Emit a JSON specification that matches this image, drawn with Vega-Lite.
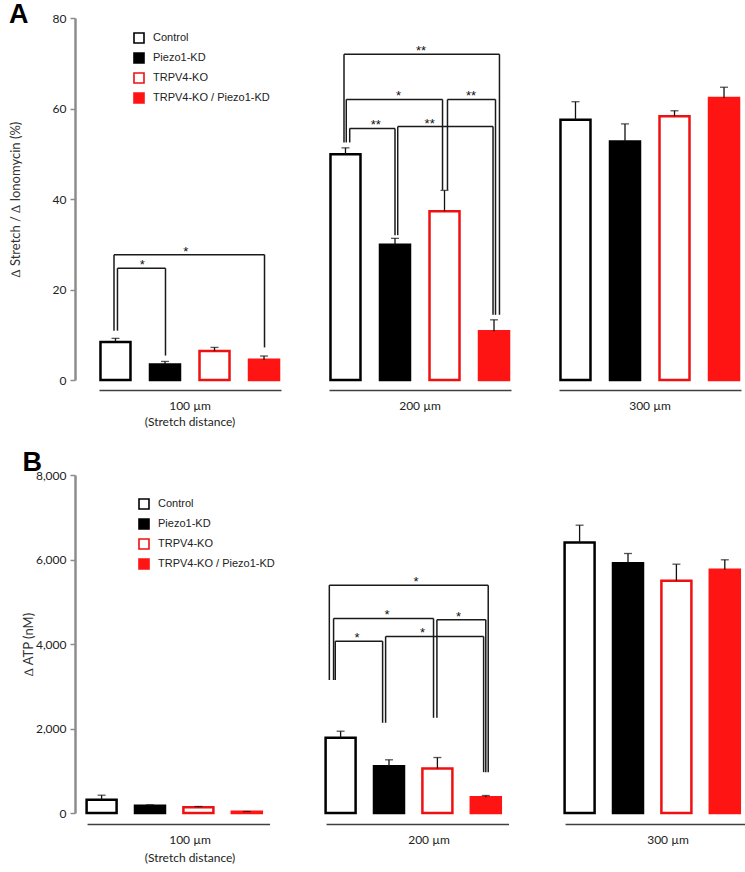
{
  "$schema": "https://vega.github.io/schema/vega-lite/v6.json",
  "background": "white",
  "padding": {"left": 9, "top": 1, "right": 0, "bottom": 0},
  "config": {
    "view": {"stroke": null},
    "font": "Lato",
    "axis": {"grid": false},
    "scale": {"continuousPadding": 0},
    "title": {"font": "Liberation Sans", "fontSize": 27, "fontWeight": "bold", "color": "#000", "anchor": "start", "frame": "bounds"},
    "legend": {"orient": "none", "title": null, "symbolType": "square", "symbolSize": 100, "symbolStrokeWidth": 1.6, "labelFont": "Liberation Sans", "labelFontSize": 11, "labelColor": "#222", "rowPadding": 2, "labelOffset": 8, "padding": 0}
  },
  "spacing": 21,
  "resolve": {"scale": {"fill": "independent", "stroke": "independent", "x": "independent", "y": "independent"}},
  "vconcat": [
    {
      "title": {"text": "A", "offset": -17},
      "data": {"values": [
        {"kind": "bar", "distance": "100 µm", "cond": "Control", "idx": 1, "mean": 8.4, "hi": 9.2},
        {"kind": "bar", "distance": "100 µm", "cond": "Piezo1-KD", "idx": 2, "mean": 3.4, "hi": 4.1},
        {"kind": "bar", "distance": "100 µm", "cond": "TRPV4-KO", "idx": 3, "mean": 6.4, "hi": 7.2},
        {"kind": "bar", "distance": "100 µm", "cond": "TRPV4-KO / Piezo1-KD", "idx": 4, "mean": 4.5, "hi": 5.3},
        {"kind": "bar", "distance": "200 µm", "cond": "Control", "idx": 1, "mean": 49.9, "hi": 51.3},
        {"kind": "bar", "distance": "200 µm", "cond": "Piezo1-KD", "idx": 2, "mean": 29.9, "hi": 31.3},
        {"kind": "bar", "distance": "200 µm", "cond": "TRPV4-KO", "idx": 3, "mean": 37.3, "hi": 41.9},
        {"kind": "bar", "distance": "200 µm", "cond": "TRPV4-KO / Piezo1-KD", "idx": 4, "mean": 10.8, "hi": 13.3},
        {"kind": "bar", "distance": "300 µm", "cond": "Control", "idx": 1, "mean": 57.5, "hi": 61.5},
        {"kind": "bar", "distance": "300 µm", "cond": "Piezo1-KD", "idx": 2, "mean": 52.7, "hi": 56.6},
        {"kind": "bar", "distance": "300 µm", "cond": "TRPV4-KO", "idx": 3, "mean": 58.3, "hi": 59.5},
        {"kind": "bar", "distance": "300 µm", "cond": "TRPV4-KO / Piezo1-KD", "idx": 4, "mean": 62.3, "hi": 64.7},
        {"kind": "br", "distance": "100 µm", "xl": 0.97, "xr": 4.01, "top": 27.7, "yl": 10.9, "yr": 7.2, "lx": 2.42, "label": "*"},
        {"kind": "br", "distance": "100 µm", "xl": 1.04, "xr": 2.01, "top": 24.7, "yl": 10.9, "yr": 5.4, "lx": 1.54, "label": "*"},
        {"kind": "br", "distance": "200 µm", "xl": 0.97, "xr": 4.11, "top": 72.0, "yl": 52.5, "yr": 14.4, "lx": 2.525, "label": "**"},
        {"kind": "br", "distance": "200 µm", "xl": 1.016, "xr": 2.96, "top": 62.0, "yl": 52.5, "yr": 42.0, "lx": 2.07, "label": "*"},
        {"kind": "br", "distance": "200 µm", "xl": 3.06, "xr": 4.03, "top": 62.0, "yl": 42.0, "yr": 14.4, "lx": 3.535, "label": "**"},
        {"kind": "br", "distance": "200 µm", "xl": 1.085, "xr": 2.0, "top": 55.6, "yl": 52.5, "yr": 32.0, "lx": 1.61, "label": "**"},
        {"kind": "br", "distance": "200 µm", "xl": 2.055, "xr": 3.98, "top": 56.0, "yl": 32.0, "yr": 14.4, "lx": 2.70, "label": "**"}
      ]},
      "facet": {"column": {"field": "distance", "type": "ordinal", "sort": ["100 µm", "200 µm", "300 µm"],
        "header": {"title": null, "labelOrient": "bottom", "labelFont": "Lato", "labelFontSize": 12, "labelColor": "#222", "labelPadding": 11, "labelLineHeight": 16,
          "labelExpr": "datum.value === '100 µm' ? ['100 µm', '(Stretch distance)'] : datum.value"}}},
      "spacing": 48,
      "spec": {
        "width": 182,
        "height": 362,
        "layer": [
          {
            "transform": [{"filter": "datum.kind === 'bar'"}],
            "mark": {"type": "bar", "size": 30, "strokeWidth": 2.5, "orient": "vertical"},
            "encoding": {
              "x": {"field": "idx", "type": "quantitative", "title": null, "scale": {"domain": [0.667, 4.343], "nice": false, "zero": false, "padding": 0},
                "axis": {"domain": true, "domainColor": "#404040", "domainWidth": 1.6, "ticks": false, "labels": false, "grid": false, "offset": 8}},
              "y": {"field": "mean", "type": "quantitative", "title": "∆ Stretch / ∆ Ionomycin (%)", "scale": {"domain": [0, 80], "nice": false},
                "axis": {"values": [0, 20, 40, 60, 80], "offset": 24, "domainColor": "#8c8c8c", "domainWidth": 2.5, "tickColor": "#8c8c8c", "tickWidth": 1.5, "tickSize": 5,
                  "labelFontSize": 12, "labelColor": "#222", "labelPadding": 4, "titleFontSize": 13, "titleFontWeight": "normal", "titleColor": "#333", "titlePadding": 30}},
              "fill": {"field": "cond", "type": "nominal", "scale": {"domain": ["Control", "Piezo1-KD", "TRPV4-KO", "TRPV4-KO / Piezo1-KD"], "range": ["#ffffff", "#000000", "#ffffff", "#ff1414"]},
                "legend": {"legendX": 34, "legendY": 14}},
              "stroke": {"field": "cond", "type": "nominal", "scale": {"domain": ["Control", "Piezo1-KD", "TRPV4-KO", "TRPV4-KO / Piezo1-KD"], "range": ["#000000", "#000000", "#ee1111", "#ff1414"]},
                "legend": {"legendX": 34, "legendY": 14}}
            }
          },
          {
            "transform": [{"filter": "datum.kind === 'bar'"}],
            "mark": {"type": "rule", "color": "#111", "strokeWidth": 1.3},
            "encoding": {"x": {"field": "idx", "type": "quantitative", "title": null, "scale": {"domain": [0.667, 4.343], "nice": false, "zero": false, "padding": 0}}, "y": {"field": "mean", "type": "quantitative", "title": "∆ Stretch / ∆ Ionomycin (%)"}, "y2": {"field": "hi"}}
          },
          {
            "transform": [{"filter": "datum.kind === 'bar'"}],
            "mark": {"type": "tick", "orient": "horizontal", "color": "#111", "size": 8, "thickness": 1.3},
            "encoding": {"x": {"field": "idx", "type": "quantitative", "title": null, "scale": {"domain": [0.667, 4.343], "nice": false, "zero": false, "padding": 0}}, "y": {"field": "hi", "type": "quantitative", "title": "∆ Stretch / ∆ Ionomycin (%)"}}
          },
          {
            "transform": [{"filter": "datum.kind === 'br'"}],
            "mark": {"type": "rule", "color": "#1a1a1a", "strokeWidth": 1.5},
            "encoding": {"x": {"field": "xl", "type": "quantitative", "title": null, "scale": {"domain": [0.667, 4.343], "nice": false, "zero": false, "padding": 0}}, "x2": {"field": "xr"}, "y": {"field": "top", "type": "quantitative", "title": "∆ Stretch / ∆ Ionomycin (%)"}}
          },
          {
            "transform": [{"filter": "datum.kind === 'br'"}],
            "mark": {"type": "rule", "color": "#1a1a1a", "strokeWidth": 1.5},
            "encoding": {"x": {"field": "xl", "type": "quantitative", "title": null, "scale": {"domain": [0.667, 4.343], "nice": false, "zero": false, "padding": 0}}, "y": {"field": "yl", "type": "quantitative", "title": "∆ Stretch / ∆ Ionomycin (%)"}, "y2": {"field": "top"}}
          },
          {
            "transform": [{"filter": "datum.kind === 'br'"}],
            "mark": {"type": "rule", "color": "#1a1a1a", "strokeWidth": 1.5},
            "encoding": {"x": {"field": "xr", "type": "quantitative", "title": null, "scale": {"domain": [0.667, 4.343], "nice": false, "zero": false, "padding": 0}}, "y": {"field": "yr", "type": "quantitative", "title": "∆ Stretch / ∆ Ionomycin (%)"}, "y2": {"field": "top"}}
          },
          {
            "transform": [{"filter": "datum.kind === 'br'"}],
            "mark": {"type": "text", "font": "Liberation Sans", "fontSize": 13, "color": "#111", "baseline": "alphabetic", "dy": 1},
            "encoding": {"x": {"field": "lx", "type": "quantitative", "title": null, "scale": {"domain": [0.667, 4.343], "nice": false, "zero": false, "padding": 0}}, "y": {"field": "top", "type": "quantitative", "title": "∆ Stretch / ∆ Ionomycin (%)"}, "text": {"field": "label"}}
          }
        ]
      }
    },
    {
      "title": {"text": "B", "offset": -8},
      "data": {"values": [
        {"kind": "bar", "distance": "100 µm", "cond": "Control", "idx": 1, "mean": 312, "hi": 421},
        {"kind": "bar", "distance": "100 µm", "cond": "Piezo1-KD", "idx": 2, "mean": 170, "hi": 194},
        {"kind": "bar", "distance": "100 µm", "cond": "TRPV4-KO", "idx": 3, "mean": 137, "hi": 154},
        {"kind": "bar", "distance": "100 µm", "cond": "TRPV4-KO / Piezo1-KD", "idx": 4, "mean": 30, "hi": 35},
        {"kind": "bar", "distance": "200 µm", "cond": "Control", "idx": 1, "mean": 1780, "hi": 1936},
        {"kind": "bar", "distance": "200 µm", "cond": "Piezo1-KD", "idx": 2, "mean": 1108, "hi": 1259},
        {"kind": "bar", "distance": "200 µm", "cond": "TRPV4-KO", "idx": 3, "mean": 1053, "hi": 1313},
        {"kind": "bar", "distance": "200 µm", "cond": "TRPV4-KO / Piezo1-KD", "idx": 4, "mean": 374, "hi": 414},
        {"kind": "bar", "distance": "300 µm", "cond": "Control", "idx": 1, "mean": 6402, "hi": 6812},
        {"kind": "bar", "distance": "300 µm", "cond": "Piezo1-KD", "idx": 2, "mean": 5913, "hi": 6142},
        {"kind": "bar", "distance": "300 µm", "cond": "TRPV4-KO", "idx": 3, "mean": 5496, "hi": 5889},
        {"kind": "bar", "distance": "300 µm", "cond": "TRPV4-KO / Piezo1-KD", "idx": 4, "mean": 5756, "hi": 5993},
        {"kind": "br", "distance": "200 µm", "xl": 0.767, "xr": 4.05, "top": 5392, "yl": 3148, "yr": 966, "lx": 2.556, "label": "*"},
        {"kind": "br", "distance": "200 µm", "xl": 0.855, "xr": 2.92, "top": 4604, "yl": 3148, "yr": 2253, "lx": 1.957, "label": "*"},
        {"kind": "br", "distance": "200 µm", "xl": 2.99, "xr": 4.0, "top": 4573, "yl": 2253, "yr": 966, "lx": 3.438, "label": "*"},
        {"kind": "br", "distance": "200 µm", "xl": 0.89, "xr": 1.868, "top": 4066, "yl": 3148, "yr": 2135, "lx": 1.337, "label": "*"},
        {"kind": "br", "distance": "200 µm", "xl": 1.93, "xr": 3.955, "top": 4178, "yl": 2135, "yr": 966, "lx": 2.694, "label": "*"}
      ]},
      "facet": {"column": {"field": "distance", "type": "ordinal", "sort": ["100 µm", "200 µm", "300 µm"],
        "header": {"title": null, "labelOrient": "bottom", "labelFont": "Lato", "labelFontSize": 12, "labelColor": "#222", "labelPadding": 22, "labelLineHeight": 18,
          "labelExpr": "datum.value === '100 µm' ? ['100 µm', '(Stretch distance)'] : datum.value"}}},
      "spacing": 57,
      "bounds": "flush",
      "spec": {
        "width": 182,
        "height": 338,
        "layer": [
          {
            "transform": [{"filter": "datum.kind === 'bar'"}],
            "mark": {"type": "bar", "size": 30, "strokeWidth": 2.5, "orient": "vertical"},
            "encoding": {
              "x": {"field": "idx", "type": "quantitative", "title": null, "scale": {"domain": [0.9463, 4.7066], "nice": false, "zero": false, "padding": 0}, "axis": null},
              "y": {"field": "mean", "type": "quantitative", "title": "∆ ATP (nM)", "scale": {"domain": [0, 8000], "nice": false},
                "axis": {"values": [0, 2000, 4000, 6000, 8000], "labelExpr": "format(datum.value, ',')", "offset": 24, "domainColor": "#8c8c8c", "domainWidth": 2.5, "tickColor": "#8c8c8c", "tickWidth": 1.5, "tickSize": 5,
                  "labelFontSize": 12, "labelColor": "#222", "labelPadding": 4, "titleFontSize": 13, "titleFontWeight": "normal", "titleColor": "#333", "titlePadding": 0}},
              "fill": {"field": "cond", "type": "nominal", "scale": {"domain": ["Control", "Piezo1-KD", "TRPV4-KO", "TRPV4-KO / Piezo1-KD"], "range": ["#ffffff", "#000000", "#ffffff", "#ff1414"]},
                "legend": {"legendX": 39, "legendY": 23}},
              "stroke": {"field": "cond", "type": "nominal", "scale": {"domain": ["Control", "Piezo1-KD", "TRPV4-KO", "TRPV4-KO / Piezo1-KD"], "range": ["#000000", "#000000", "#ee1111", "#ff1414"]},
                "legend": {"legendX": 39, "legendY": 23}}
            }
          },
          {
            "transform": [{"filter": "datum.kind === 'bar' && datum.cond === 'Control'"}],
            "mark": {"type": "rule", "color": "#404040", "strokeWidth": 1.6, "yOffset": 11.5},
            "encoding": {"x": {"datum": 0.71, "type": "quantitative", "title": null, "scale": {"domain": [0.9463, 4.7066], "nice": false, "zero": false, "padding": 0}}, "x2": {"datum": 4.48}, "y": {"datum": 0, "type": "quantitative", "title": "∆ ATP (nM)"}}
          },
          {
            "transform": [{"filter": "datum.kind === 'bar'"}],
            "mark": {"type": "rule", "color": "#111", "strokeWidth": 1.3},
            "encoding": {"x": {"field": "idx", "type": "quantitative", "title": null, "scale": {"domain": [0.9463, 4.7066], "nice": false, "zero": false, "padding": 0}}, "y": {"field": "mean", "type": "quantitative", "title": "∆ ATP (nM)"}, "y2": {"field": "hi"}}
          },
          {
            "transform": [{"filter": "datum.kind === 'bar'"}],
            "mark": {"type": "tick", "orient": "horizontal", "color": "#111", "size": 8, "thickness": 1.3},
            "encoding": {"x": {"field": "idx", "type": "quantitative", "title": null, "scale": {"domain": [0.9463, 4.7066], "nice": false, "zero": false, "padding": 0}}, "y": {"field": "hi", "type": "quantitative", "title": "∆ ATP (nM)"}}
          },
          {
            "transform": [{"filter": "datum.kind === 'br'"}],
            "mark": {"type": "rule", "color": "#1a1a1a", "strokeWidth": 1.5},
            "encoding": {"x": {"field": "xl", "type": "quantitative", "title": null, "scale": {"domain": [0.9463, 4.7066], "nice": false, "zero": false, "padding": 0}}, "x2": {"field": "xr"}, "y": {"field": "top", "type": "quantitative", "title": "∆ ATP (nM)"}}
          },
          {
            "transform": [{"filter": "datum.kind === 'br'"}],
            "mark": {"type": "rule", "color": "#1a1a1a", "strokeWidth": 1.5},
            "encoding": {"x": {"field": "xl", "type": "quantitative", "title": null, "scale": {"domain": [0.9463, 4.7066], "nice": false, "zero": false, "padding": 0}}, "y": {"field": "yl", "type": "quantitative", "title": "∆ ATP (nM)"}, "y2": {"field": "top"}}
          },
          {
            "transform": [{"filter": "datum.kind === 'br'"}],
            "mark": {"type": "rule", "color": "#1a1a1a", "strokeWidth": 1.5},
            "encoding": {"x": {"field": "xr", "type": "quantitative", "title": null, "scale": {"domain": [0.9463, 4.7066], "nice": false, "zero": false, "padding": 0}}, "y": {"field": "yr", "type": "quantitative", "title": "∆ ATP (nM)"}, "y2": {"field": "top"}}
          },
          {
            "transform": [{"filter": "datum.kind === 'br'"}],
            "mark": {"type": "text", "font": "Liberation Sans", "fontSize": 13, "color": "#111", "baseline": "alphabetic", "dy": 1},
            "encoding": {"x": {"field": "lx", "type": "quantitative", "title": null, "scale": {"domain": [0.9463, 4.7066], "nice": false, "zero": false, "padding": 0}}, "y": {"field": "top", "type": "quantitative", "title": "∆ ATP (nM)"}, "text": {"field": "label"}}
          }
        ]
      }
    }
  ]
}
